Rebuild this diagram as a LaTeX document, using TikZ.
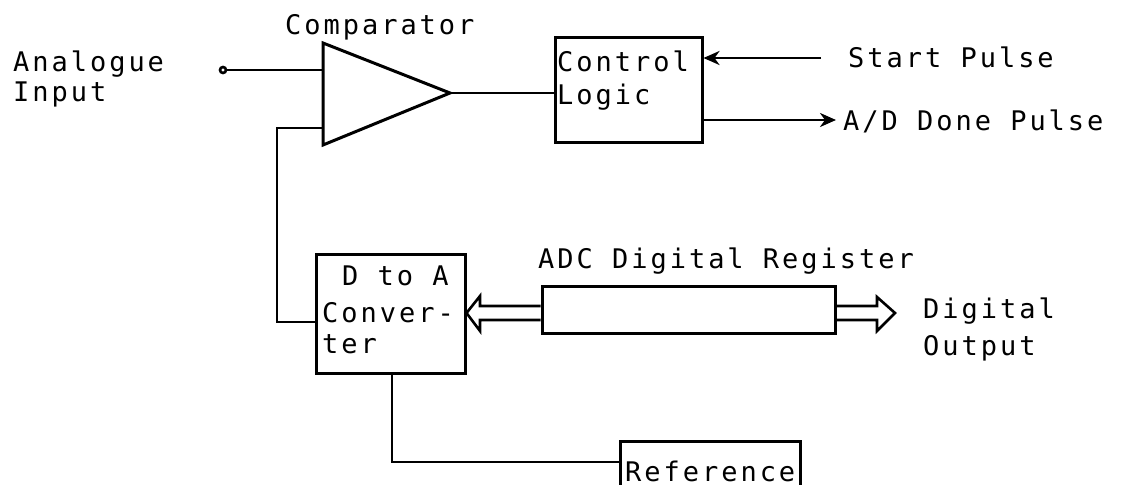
\documentclass[tikz,border=0pt]{standalone}
\usepackage{fontspec}
\newfontfamily\plotfont{DejaVu Sans Mono}[LetterSpace=11]
\usetikzlibrary{arrows.meta,calc}
\begin{document}
\begin{tikzpicture}[x=1pt,y=-1pt,
  wire/.style={line width=2.6pt},
  boxnode/.style={draw,line width=3pt,inner sep=0pt,rectangle},
  lbl/.style={anchor=base west,inner sep=0pt,font=\plotfont\fontsize{27}{32}\selectfont},
  sig/.style={wire,-{Stealth[length=16pt,width=14pt,inset=5pt]}},
  bus/.style={line width=2.6pt,line join=miter}]
\useasboundingbox (0,0) rectangle (1123,484);
% boxes
\node[boxnode,minimum width=147pt,minimum height=104pt] (ctrl) at (628.5,90) {};
\node[boxnode,minimum width=149pt,minimum height=119pt] (dac) at (390.5,313.5) {};
\node[boxnode,minimum width=293pt,minimum height=47pt] (reg) at (688.5,309.5) {};
\node[boxnode,minimum width=180pt,minimum height=70pt] (ref) at (710,476) {};
% comparator
\coordinate (cA) at (323,43);
\coordinate (cB) at (323,145);
\coordinate (cC) at (450,93);
\draw[line width=3pt,line join=miter] (cA) -- (cC) -- (cB) -- cycle;
\coordinate (cin1) at (323,70);
\coordinate (cin2) at (323,128);
\coordinate (ain) at (223,70);
\draw[wire] (ain) circle[radius=3pt];
\draw[wire] (ain) ++(3,0) -- (cin1);
\draw[wire] (cC) -- (ctrl.west |- cC);
% feedback
\coordinate (fbk) at (277,322);
\draw[wire] (cin2) -| (fbk) -- (dac.west |- fbk);
% control signals
\coordinate (startend) at (821,58);
\draw[sig] (startend) -- (ctrl.east |- startend);
\coordinate (doneend) at (836,120);
\draw[sig] (ctrl.east |- doneend) -- (doneend);
% buses
\draw[bus] (reg.west |- 0,306) -- (480,306) -- (480,296) -- (dac.east |- 0,313) -- (480,331) -- (480,320) -- (reg.west |- 0,320);
\draw[bus] (reg.east |- 0,306) -- (877,306) -- (877,297) -- (895,313) -- (877,331) -- (877,320) -- (reg.east |- 0,320);
% reference link
\coordinate (refin) at (620,462);
\draw[wire] (dac.south -| 392,0) |- (refin);
% labels
\node[lbl] (tAna) at (13,72) {Analogue};
\node[lbl] (tInp) at (13,102) {Input};
\node[lbl] (tComp) at (285,35) {Comparator};
\node[lbl] (tCtl) at (557,72) {Control};
\node[lbl] (tLog) at (557,105) {Logic};
\node[lbl] (tStart) at (848,68) {Start Pulse};
\node[lbl] (tDone) at (843,130) {A/D Done Pulse};
\node[lbl] (tReg) at (538,268) {ADC Digital Register};
\node[lbl] (tDA) at (342,285) {D to A};
\node[lbl] (tConv) at (322,322) {Conver-};
\node[lbl] (tTer) at (322,353) {ter};
\node[lbl] (tDig) at (923,318) {Digital};
\node[lbl] (tOut) at (923,355) {Output};
\node[lbl] (tRef) at (625,481) {Reference};
\end{tikzpicture}
\end{document}
